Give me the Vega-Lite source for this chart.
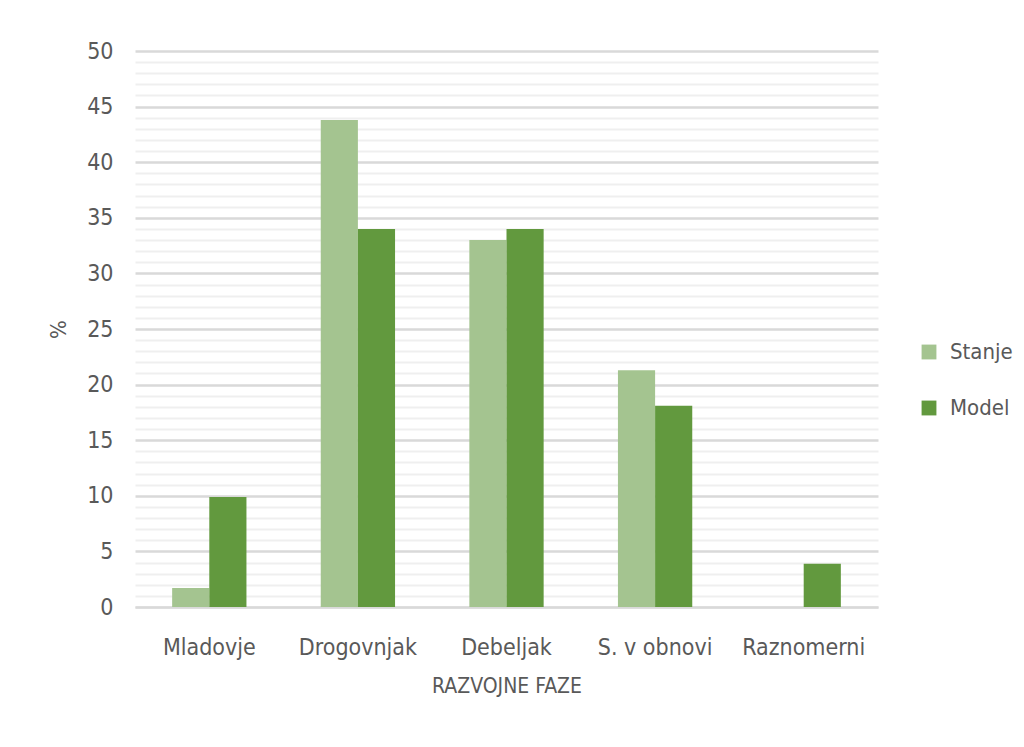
{
  "$schema": "https://vega.github.io/schema/vega-lite/v6.json",
  "autosize": {"type": "none"},
  "width": 743,
  "height": 556,
  "padding": {"left": 135, "top": 51, "right": 146, "bottom": 140},
  "background": "white",
  "data": {"values": [
    {"faza": "Mladovje", "serija": "Stanje", "pct": 1.7},
    {"faza": "Mladovje", "serija": "Model", "pct": 9.9},
    {"faza": "Drogovnjak", "serija": "Stanje", "pct": 43.8},
    {"faza": "Drogovnjak", "serija": "Model", "pct": 34.0},
    {"faza": "Debeljak", "serija": "Stanje", "pct": 33.0},
    {"faza": "Debeljak", "serija": "Model", "pct": 34.0},
    {"faza": "S. v obnovi", "serija": "Stanje", "pct": 21.3},
    {"faza": "S. v obnovi", "serija": "Model", "pct": 18.1},
    {"faza": "Raznomerni", "serija": "Stanje", "pct": 0},
    {"faza": "Raznomerni", "serija": "Model", "pct": 3.9}
  ]},
  "mark": {"type": "bar"},
  "encoding": {
    "x": {
      "field": "faza", "type": "nominal", "sort": null,
      "scale": {"paddingInner": 0.5, "paddingOuter": 0.25},
      "axis": {
        "title": "RAZVOJNE FAZE", "labelAngle": 0, "ticks": false,
        "domainColor": "#d9d9d9", "domainWidth": 2,
        "labelPadding": 29, "titlePadding": 16,
        "labelFontSize": 23, "titleFontSize": 21, "titleFontWeight": "normal"
      }
    },
    "xOffset": {"field": "serija", "type": "nominal", "sort": ["Stanje", "Model"], "scale": {"paddingInner": 0, "paddingOuter": 0}},
    "y": {
      "field": "pct", "type": "quantitative",
      "scale": {"domain": [0, 50], "nice": false},
      "axis": {
        "title": "%", "domain": false, "ticks": false,
        "values": [0,1,2,3,4,5,6,7,8,9,10,11,12,13,14,15,16,17,18,19,20,21,22,23,24,25,26,27,28,29,30,31,32,33,34,35,36,37,38,39,40,41,42,43,44,45,46,47,48,49,50],
        "labelExpr": "datum.value % 5 === 0 ? datum.label : ''",
        "gridColor": {"condition": {"test": "datum.value % 5 === 0", "value": "#d9d9d9"}, "value": "#efefef"},
        "gridWidth": {"condition": {"test": "datum.value % 5 === 0", "value": 2.5}, "value": 2},
        "labelPadding": 22, "titlePadding": 16,
        "labelFontSize": 23, "titleFontSize": 22, "titleFontWeight": "normal"
      }
    },
    "color": {
      "field": "serija", "type": "nominal",
      "scale": {"domain": ["Stanje", "Model"], "range": ["#a4c490", "#62993e"]},
      "legend": {
        "title": null, "orient": "none", "legendX": 783, "legendY": 290,
        "symbolType": "square", "symbolSize": 220, "symbolStrokeWidth": 0,
        "labelFontSize": 22, "rowPadding": 34, "labelOffset": 10
      }
    }
  },
  "config": {
    "font": "Liberation Sans Narrow, DejaVu Sans Condensed, sans-serif",
    "view": {"stroke": null},
    "axis": {"labelColor": "#595959", "titleColor": "#595959", "labelFont": "Liberation Sans Narrow, DejaVu Sans Condensed, sans-serif", "titleFont": "Liberation Sans Narrow, DejaVu Sans Condensed, sans-serif"},
    "legend": {"labelColor": "#595959", "labelFont": "Liberation Sans Narrow, DejaVu Sans Condensed, sans-serif"}
  }
}
